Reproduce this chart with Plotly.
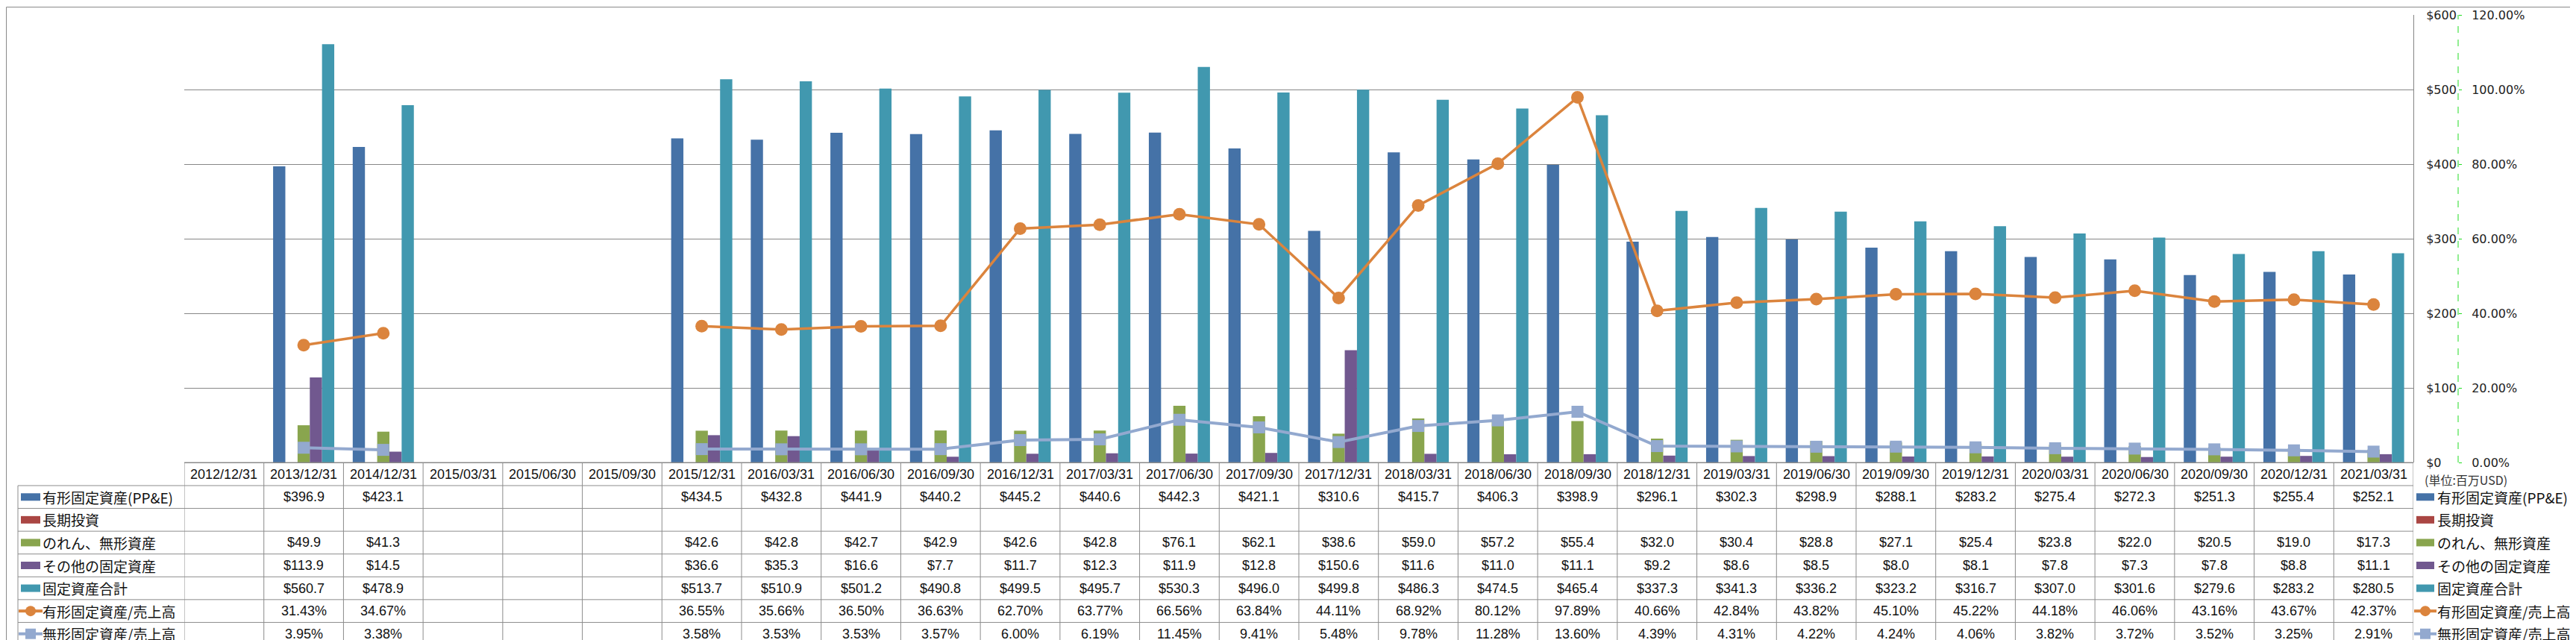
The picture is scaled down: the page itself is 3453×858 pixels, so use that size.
import plotly.graph_objects as go

W, H = 3453, 858

categories = ["2012/12/31", "2013/12/31", "2014/12/31", "2015/03/31", "2015/06/30", "2015/09/30",
              "2015/12/31", "2016/03/31", "2016/06/30", "2016/09/30", "2016/12/31",
              "2017/03/31", "2017/06/30", "2017/09/30", "2017/12/31",
              "2018/03/31", "2018/06/30", "2018/09/30", "2018/12/31",
              "2019/03/31", "2019/06/30", "2019/09/30", "2019/12/31",
              "2020/03/31", "2020/06/30", "2020/09/30", "2020/12/31", "2021/03/31"]
N = None
ppe = [N, 396.9, 423.1, N, N, N, 434.5, 432.8, 441.9, 440.2, 445.2, 440.6, 442.3, 421.1, 310.6,
       415.7, 406.3, 398.9, 296.1, 302.3, 298.9, 288.1, 283.2, 275.4, 272.3, 251.3, 255.4, 252.1]
lt_invest = [N] * 28
goodwill = [N, 49.9, 41.3, N, N, N, 42.6, 42.8, 42.7, 42.9, 42.6, 42.8, 76.1, 62.1, 38.6,
            59.0, 57.2, 55.4, 32.0, 30.4, 28.8, 27.1, 25.4, 23.8, 22.0, 20.5, 19.0, 17.3]
other_fixed = [N, 113.9, 14.5, N, N, N, 36.6, 35.3, 16.6, 7.7, 11.7, 12.3, 11.9, 12.8, 150.6,
               11.6, 11.0, 11.1, 9.2, 8.6, 8.5, 8.0, 8.1, 7.8, 7.3, 7.8, 8.8, 11.1]
total_fixed = [N, 560.7, 478.9, N, N, N, 513.7, 510.9, 501.2, 490.8, 499.5, 495.7, 530.3, 496.0, 499.8,
               486.3, 474.5, 465.4, 337.3, 341.3, 336.2, 323.2, 316.7, 307.0, 301.6, 279.6, 283.2, 280.5]
ppe_ratio = [N, 31.43, 34.67, N, N, N, 36.55, 35.66, 36.50, 36.63, 62.70, 63.77, 66.56, 63.84, 44.11,
             68.92, 80.12, 97.89, 40.66, 42.84, 43.82, 45.10, 45.22, 44.18, 46.06, 43.16, 43.67, 42.37]
intang_ratio = [N, 3.95, 3.38, N, N, N, 3.58, 3.53, 3.53, 3.57, 6.00, 6.19, 11.45, 9.41, 5.48,
                9.78, 11.28, 13.60, 4.39, 4.31, 4.22, 4.24, 4.06, 3.82, 3.72, 3.52, 3.25, 2.91]

names = ["有形固定資産(PP&E)", "長期投資", "のれん、無形資産", "その他の固定資産", "固定資産合計",
         "有形固定資産/売上高", "無形固定資産/売上高"]
colors = ["#4572A7", "#AA4643", "#89A54E", "#71588F", "#4198AF", "#DB843D", "#93A9CF"]
bar_series = [ppe, lt_invest, goodwill, other_fixed, total_fixed]
line_series = [ppe_ratio, intang_ratio]


def px(x):
    return x / W


def py(y):
    return 1 - y / H


fig = go.Figure()
for nm, vals, col in zip(names[:5], bar_series, colors[:5]):
    fig.add_trace(go.Bar(x=categories, y=vals, name=nm, marker=dict(color=col, line=dict(width=0)),
                         yaxis="y"))

fig.add_trace(go.Scatter(x=categories, y=[v / 100 if v is not None else None for v in ppe_ratio],
                         name=names[5], mode="lines+markers", yaxis="y2", connectgaps=False,
                         line=dict(color=colors[5], width=3.5),
                         marker=dict(symbol="circle", size=17, color=colors[5])))
fig.add_trace(go.Scatter(x=categories, y=[v / 100 if v is not None else None for v in intang_ratio],
                         name=names[6], mode="lines+markers", yaxis="y2", connectgaps=False,
                         line=dict(color=colors[6], width=4),
                         marker=dict(symbol="square", size=16, color=colors[6])))

GRID = "#868686"
TLINE = "#8c8c8c"
shapes = []
annotations = []

# table geometry (pixels)
top_hdr, bot_hdr = 612, 643
row_h = (857 - 643) / 7
row_bounds = [bot_hdr + k * row_h for k in range(8)]
row_centers = [(row_bounds[k] + row_bounds[k + 1]) / 2 for k in range(7)]

# horizontal table lines
shapes.append(dict(type="line", xref="paper", yref="paper", x0=px(239), x1=px(3227),
                   y0=py(top_hdr), y1=py(top_hdr), line=dict(color=TLINE, width=1)))
for yb in row_bounds:
    shapes.append(dict(type="line", xref="paper", yref="paper", x0=px(16), x1=px(3227),
                       y0=py(yb), y1=py(yb), line=dict(color=TLINE, width=1)))
# vertical table lines
shapes.append(dict(type="line", xref="paper", yref="paper", x0=px(16), x1=px(16),
                   y0=py(bot_hdr), y1=py(857), line=dict(color=TLINE, width=1)))
for i in range(len(categories) + 1):
    shapes.append(dict(type="line", xref="x", yref="paper", x0=i - 0.5, x1=i - 0.5,
                       y0=py(top_hdr), y1=py(857), line=dict(color=TLINE, width=1)))

TFONT = dict(family="Liberation Sans, Arial, sans-serif", size=18, color="#111111")
LFONT = dict(family="Noto Sans CJK JP, sans-serif", size=19, color="#111111")

# header
for c in categories:
    annotations.append(dict(x=c, xref="x", y=py((top_hdr + bot_hdr) / 2), yref="paper",
                            text=c, showarrow=False, font=TFONT, xanchor="center", yanchor="middle"))

all_series = bar_series + line_series
for r, vals in enumerate(all_series):
    for c, v in zip(categories, vals):
        if v is None:
            continue
        txt = f"${v:.1f}" if r < 5 else f"{v:.2f}%"
        annotations.append(dict(x=c, xref="x", y=py(row_centers[r]), yref="paper", text=txt,
                                showarrow=False, font=TFONT, xanchor="center", yanchor="middle"))


def swatch(x0, x1, yc, r):
    col = colors[r]
    if r < 5:
        shapes.append(dict(type="rect", xref="paper", yref="paper", x0=px(x0), x1=px(x1),
                           y0=py(yc - 5), y1=py(yc + 5), fillcolor=col, line=dict(width=0)))
    else:
        shapes.append(dict(type="line", xref="paper", yref="paper", x0=px(x0 - 3), x1=px(x1 + 3),
                           y0=py(yc), y1=py(yc), line=dict(color=col, width=4)))
        xc = (x0 + x1) / 2
        shapes.append(dict(type="circle" if r == 5 else "rect", xref="paper", yref="paper",
                           x0=px(xc - 7), x1=px(xc + 7), y0=py(yc - 7), y1=py(yc + 7),
                           fillcolor=col, line=dict(width=0)))


for r, nm in enumerate(names):
    yc = row_centers[r]
    swatch(20, 46, yc, r)
    annotations.append(dict(x=px(47), xref="paper", y=py(yc), yref="paper", text=nm, showarrow=False,
                            font=LFONT, xanchor="left", yanchor="middle"))
    swatch(3231, 3255, yc, r)
    annotations.append(dict(x=px(3257), xref="paper", y=py(yc), yref="paper", text=nm, showarrow=False,
                            font=LFONT, xanchor="left", yanchor="middle"))

annotations.append(dict(x=px(3240), xref="paper", y=py(635), yref="paper", text="(単位:百万USD)",
                        showarrow=False, font=dict(family="Noto Sans CJK JP, sans-serif", size=16,
                                                   color="#333333"),
                        xanchor="left", yanchor="middle"))

# green dashed secondary axis line
shapes.append(dict(type="line", xref="paper", yref="paper", x0=px(3287), x1=px(3287),
                   y0=py(612), y1=py(12), line=dict(color="#22DD22", width=1, dash="dash")))
# outer border
shapes.append(dict(type="rect", xref="paper", yref="paper", x0=px(0.5), x1=px(W - 2.5),
                   y0=py(H - 0.5), y1=py(1.5), line=dict(color="#8a8a8a", width=1)))

AXFONT = dict(family="DejaVu Sans, Verdana, sans-serif", size=16, color="#222222")

fig.update_layout(
    width=W, height=H,
    margin=dict(l=0, r=0, t=0, b=0),
    paper_bgcolor="white", plot_bgcolor="white",
    showlegend=False,
    barmode="group", bargap=0.232, bargroupgap=0,
    xaxis=dict(domain=[px(239), px(3227)], type="category", range=[-0.5, 27.5],
               showticklabels=False, showgrid=False, zeroline=False, showline=True,
               linecolor=GRID, linewidth=1, ticks=""),
    yaxis=dict(domain=[py(612), py(12)], range=[0, 600], dtick=100, side="right",
               anchor="free", position=px(3227), showgrid=True, gridcolor=GRID, gridwidth=1,
               showline=True, linecolor=GRID, linewidth=1, zeroline=False, tickprefix="$",
               tickfont=AXFONT, ticks="", ticklabelstandoff=13, automargin=False),
    yaxis2=dict(overlaying="y", range=[0, 1.2], dtick=0.2, side="right", anchor="free",
                position=px(3287), tickformat=".2%", showgrid=False, zeroline=False,
                showline=False, ticks="outside", ticklen=4, tickcolor="#22DD22", tickwidth=1,
                tickfont=AXFONT, ticklabelstandoff=10, automargin=False),
    shapes=shapes,
    annotations=annotations,
)

fig.write_html("out.html")
